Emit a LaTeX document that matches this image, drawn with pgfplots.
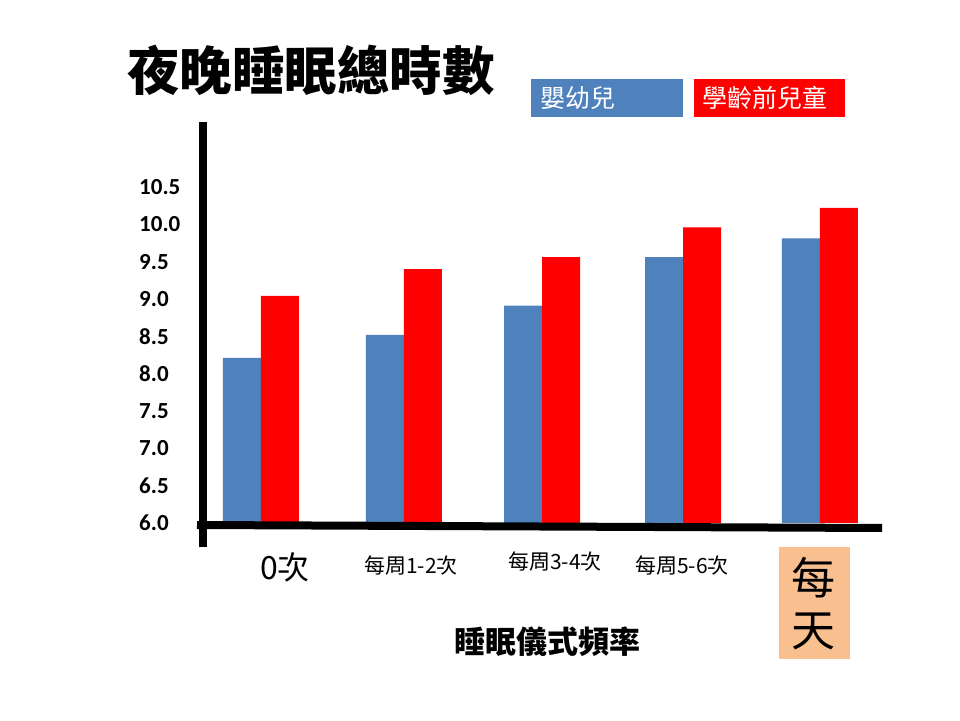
\documentclass[border=0pt]{standalone}
\usepackage{fontspec}
\usepackage{pgfplots}
\pgfplotsset{compat=1.18}
\setmainfont{Carlito}
\newfontfamily\cjk{Noto Sans CJK TC}
\definecolor{cblue}{HTML}{4F81BD}
\definecolor{cred}{HTML}{FF0000}
\definecolor{cpeach}{HTML}{F9BF8F}
\begin{document}
\begin{tikzpicture}[x=1pt,y=1pt]
\useasboundingbox[fill=white] (0,0) rectangle (960,720);
\begin{axis}[
  at={(203pt,197pt)}, anchor=south west,
  scale only axis, width=679pt, height=401pt,
  xmin=-0.415, xmax=4.444, ymin=6, ymax=11.37,
  axis line style={draw=none},
  xtick=\empty,
  ytick={6,6.5,7,7.5,8,8.5,9,9.5,10,10.5},
  major tick length=0pt,
  yticklabel style={anchor=west, inner sep=0pt, xshift=-64pt, font=\fontsize{23}{23}\selectfont\bfseries},
  /pgf/number format/.cd, fixed, fixed zerofill, precision=1, assume math mode=true,
]
\addplot[ybar, bar width=38pt, bar shift=-19pt, fill=cblue, draw=none] coordinates {(0,8.21) (1.023,8.52) (2.011,8.91) (3.02,9.56) (4,9.81)};
\addplot[ybar, bar width=38pt, bar shift=19pt, fill=cred, draw=none] coordinates {(0,9.04) (1.023,9.40) (2.011,9.56) (3.02,9.96) (4,10.22)};
\end{axis}
\draw[line width=8pt] (203,173) -- (203,598);
\draw[line width=8pt] (197,195) -- (882,192);
% title
\node[anchor=west, inner sep=0pt] at (127,650) {\cjk\bfseries\fontsize{52.5}{52.5}\selectfont 夜晚睡眠總時數};
% legend
\node[anchor=north west, fill=cblue, minimum width=152pt, minimum height=38pt, inner sep=0pt] (lb) at (531,641) {};
\node[anchor=west, inner sep=0pt, text=white] at (540,622) {\cjk\fontsize{25}{25}\selectfont 嬰幼兒};
\node[anchor=north west, fill=cred, minimum width=151pt, minimum height=38pt, inner sep=0pt] at (694,641) {};
\node[anchor=west, inner sep=0pt, text=white] at (702,622) {\cjk\fontsize{25}{25}\selectfont 學齡前兒童};
% x labels
\node[inner sep=0pt] at (285,153) {\cjk\fontsize{32}{32}\selectfont 0次};
\node[inner sep=0pt] at (411,154) {\cjk\fontsize{21}{21}\selectfont 每周1-2次};
\node[inner sep=0pt] at (555,158) {\cjk\fontsize{21}{21}\selectfont 每周3-4次};
\node[inner sep=0pt] at (682,154) {\cjk\fontsize{21}{21}\selectfont 每周5-6次};
\fill[cpeach] (779,61) rectangle (850,173);
\node[inner sep=0pt] at (813,142) {\cjk\fontsize{44}{44}\selectfont 每};
\node[inner sep=0pt] at (813,89) {\cjk\fontsize{44}{44}\selectfont 天};
\node[inner sep=0pt] at (547,78) {\cjk\bfseries\fontsize{31}{31}\selectfont 睡眠儀式頻率};
\end{tikzpicture}
\end{document}
